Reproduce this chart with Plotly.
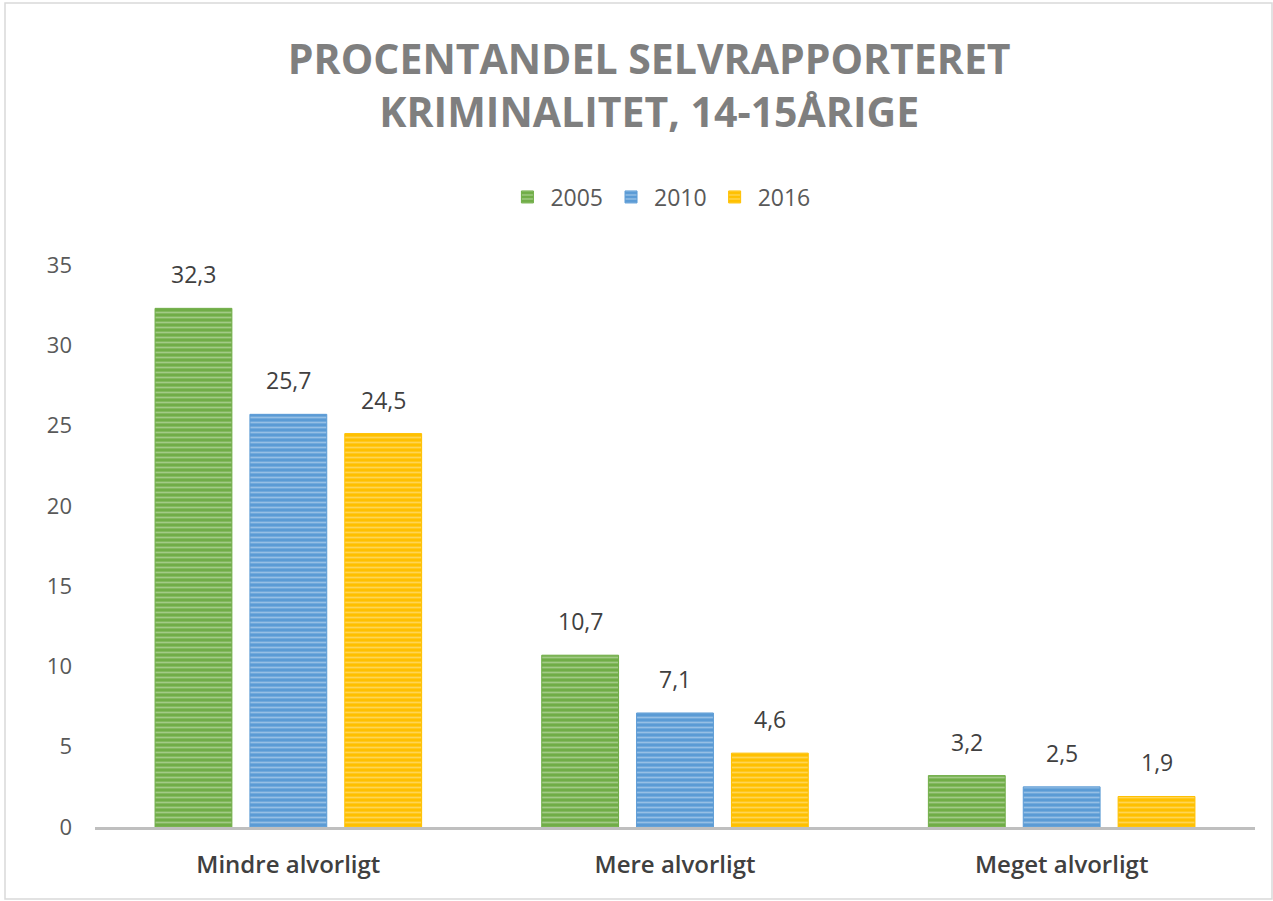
import plotly.graph_objects as go

categories = ["Mindre alvorligt", "Mere alvorligt", "Meget alvorligt"]
years = ["2005", "2010", "2016"]
values_2005 = [32.3, 10.7, 3.2]
values_2010 = [25.7, 7.1, 2.5]
values_2016 = [24.5, 4.6, 1.9]
y_ticks = [0, 5, 10, 15, 20, 25, 30, 35]

series = [values_2005, values_2010, values_2016]
colors = ["#70ad47", "#5b9bd5", "#ffc000"]
light = ["#d3e8c6", "#d2e4f5", "#ffeaa6"]

BARGAP = 0.264
GROUPGAP = 0.19

fig = go.Figure()
for name, vals, c, lc in zip(years, series, colors, light):
    fig.add_trace(go.Bar(
        name=name, x=categories, y=vals,
        marker=dict(color=c, line=dict(color=c, width=1),
                    pattern=dict(shape="-", bgcolor=c, fgcolor=lc, size=5, solidity=0.35)),
        hoverinfo="skip",
    ))

# value labels above bars
slot = (1 - BARGAP) / len(series)
for k, vals in enumerate(series):
    off = (k - (len(series) - 1) / 2) * slot
    for i, v in enumerate(vals):
        fig.add_annotation(
            x=i + off, y=v, xref="x", yref="y",
            text=f"{v:.1f}".replace(".", ","),
            showarrow=False, yanchor="bottom", yshift=16,
            font=dict(family="Open Sans", size=23, color="#404040"),
        )

fig.update_layout(
    width=1273, height=901,
    paper_bgcolor="white", plot_bgcolor="white",
    margin=dict(l=95, r=18, t=265, b=74),
    barmode="group", bargap=BARGAP, bargroupgap=GROUPGAP,
    separators=",.",
    title=dict(
        text="PROCENTANDEL SELVRAPPORTERET<br>KRIMINALITET, 14-15ÅRIGE",
        x=0.51, xanchor="center", y=0.918, yanchor="middle",
        font=dict(family="Open Sans", size=41, color="#7f7f7f", weight="bold"),
    ),
    legend=dict(
        orientation="h", x=0.487, xanchor="center", y=1.121, yanchor="middle",
        font=dict(family="Open Sans", size=23, color="#595959"),
        itemwidth=36, traceorder="normal",
    ),
    xaxis=dict(
        type="category", showline=True, linecolor="#bfbfbf", linewidth=3,
        ticks="", showgrid=False, ticklabelstandoff=14,
        tickfont=dict(family="Open Sans", size=24, color="#404040", weight=600),
    ),
    yaxis=dict(
        range=[0, 35], tickvals=y_ticks, showgrid=False, zeroline=False,
        showline=False, ticks="", ticklen=0, ticklabelstandoff=22,
        tickfont=dict(family="Open Sans", size=22, color="#595959"),
    ),
    shapes=[dict(type="rect", xref="paper", yref="paper",
                 x0=-90/1160, x1=1177/1160, y0=-72/562, y1=824/562,
                 line=dict(color="#d9d9d9", width=1.5), fillcolor="rgba(0,0,0,0)", layer="below")],
    showlegend=True,
)

fig.write_html("out.html", config={"displayModeBar": False},
               post_script="document.body.style.margin='0';")
